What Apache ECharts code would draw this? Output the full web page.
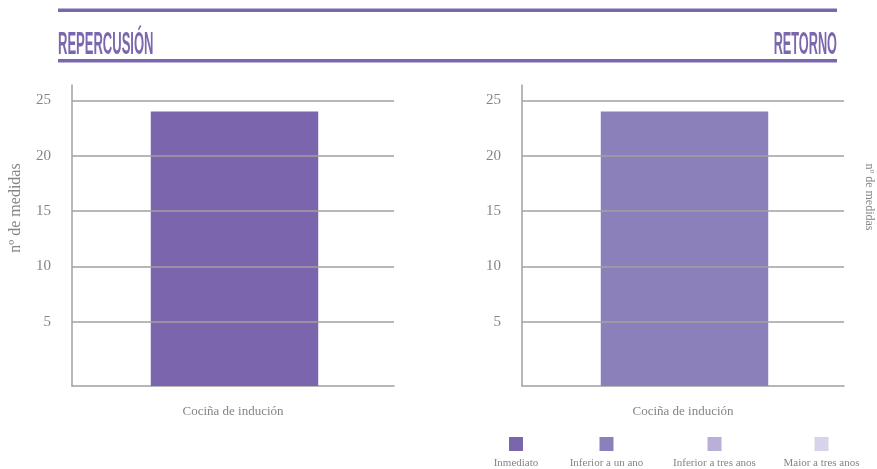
<!DOCTYPE html>
<html>
<head>
<meta charset="utf-8">
<script src="https://cdn.jsdelivr.net/npm/echarts@6/dist/echarts.min.js"></script>
<style>
  html, body { margin: 0; padding: 0; background: #fff; }
  #chart { width: 877px; height: 469px; }
</style>
</head>
<body>
<div id="chart"></div>
<script>
// Data
const categories = ['Cociña de indución'];
const panelTitles = ['REPERCUSIÓN', 'RETORNO'];
const legendNames = ['Inmediato', 'Inferior a un ano', 'Inferior a tres anos', 'Maior a tres anos'];
const repercusionValues = [24];   // Inmediato
const retornoValues = [24];       // Inferior a un ano
const yTicks = [5, 10, 15, 20, 25];
const yAxisName = 'nº de medidas';

// Styling
const PURPLE = '#7b67ae';
const legendColors = ['#7b65ad', '#8c80ba', '#b9afd8', '#d8d3ea'];
const TEXT = '#858585';
const LINE = '#a0a0a0';
const SERIF = '"Liberation Serif", "DejaVu Serif", serif';
const Y_MIN = -0.8;
const Y_MAX = 26.4;

// Bars rise from the floor of the value axis
function renderBar(params, api) {
  const cat = api.value(0);
  const val = api.value(1);
  const top = api.coord([cat, val]);
  const base = api.coord([cat, Y_MIN]);
  const w = api.size([1, 0])[0] * 0.52;
  return {
    type: 'rect',
    shape: { x: top[0] - w / 2 + 1.5, y: top[1], width: w, height: base[1] - top[1] },
    style: { fill: api.visual('color') }
  };
}

function makeXAxis(gridIndex) {
  return {
    type: 'category',
    gridIndex,
    data: categories,
    axisLine: { show: true, onZero: false, lineStyle: { color: LINE, width: 1.5 } },
    axisTick: { show: false },
    axisLabel: { color: TEXT, fontFamily: SERIF, fontSize: 13, margin: 19 },
    splitLine: { show: false }
  };
}

function makeYAxis(gridIndex) {
  return {
    type: 'value',
    gridIndex,
    min: Y_MIN,
    max: Y_MAX,
    axisLine: { show: true, onZero: false, lineStyle: { color: LINE, width: 1.5 } },
    axisTick: { show: false, customValues: yTicks },
    axisLabel: { customValues: yTicks, color: TEXT, fontFamily: SERIF, fontSize: 15, margin: 21 },
    splitLine: { show: false }
  };
}

// Horizontal gridlines at the labelled tick values
function gridLines(gridIndex) {
  return {
    type: 'line',
    xAxisIndex: gridIndex,
    yAxisIndex: gridIndex,
    data: [],
    z: 0,
    silent: true,
    markLine: {
      silent: true,
      symbol: 'none',
      label: { show: false },
      lineStyle: { color: LINE, width: 1.5, type: 'solid' },
      data: yTicks.map(v => ({ yAxis: v }))
    }
  };
}

const legendCenters = [516, 606.5, 714.5, 821.5];

const option = {
  animation: false,
  backgroundColor: '#ffffff',
  grid: [
    { left: 72, right: 483, top: 85, bottom: 83 },
    { left: 522, right: 33, top: 85, bottom: 83 }
  ],
  xAxis: [makeXAxis(0), makeXAxis(1)],
  yAxis: [makeYAxis(0), makeYAxis(1)],
  legend: legendNames.map((name, i) => ({
    data: [{ name, icon: 'rect' }],
    left: legendCenters[i] - 7,
    top: 437,
    itemWidth: 14,
    itemHeight: 14,
    padding: 0,
    selectedMode: false,
    formatter: () => '',
    textStyle: { fontSize: 1 }
  })),
  series: [
    gridLines(0),
    gridLines(1),
    {
      name: legendNames[0],
      type: 'custom',
      xAxisIndex: 0,
      yAxisIndex: 0,
      renderItem: renderBar,
      itemStyle: { color: legendColors[0] },
      encode: { x: 0, y: 1 },
      data: categories.map((c, i) => [i, repercusionValues[i]]),
      z: 2
    },
    {
      name: legendNames[1],
      type: 'custom',
      xAxisIndex: 1,
      yAxisIndex: 1,
      renderItem: renderBar,
      itemStyle: { color: legendColors[1] },
      encode: { x: 0, y: 1 },
      data: categories.map((c, i) => [i, retornoValues[i]]),
      z: 2
    },
    {
      name: legendNames[2],
      type: 'bar',
      xAxisIndex: 1,
      yAxisIndex: 1,
      itemStyle: { color: legendColors[2] },
      data: []
    },
    {
      name: legendNames[3],
      type: 'bar',
      xAxisIndex: 1,
      yAxisIndex: 1,
      itemStyle: { color: legendColors[3] },
      data: []
    }
  ],
  graphic: [
    // header rules
    { type: 'rect', shape: { x: 58, y: 8.5, width: 779, height: 3.5 }, style: { fill: PURPLE } },
    { type: 'rect', shape: { x: 58, y: 59, width: 779, height: 3.5 }, style: { fill: PURPLE } },
    // panel titles
    {
      type: 'text', x: 58, y: 45, scaleX: 0.42,
      style: { text: panelTitles[0], font: 'bold 31px "Liberation Sans", Arial, sans-serif', fill: PURPLE, align: 'left', verticalAlign: 'middle' }
    },
    {
      type: 'text', x: 837, y: 45, scaleX: 0.41,
      style: { text: panelTitles[1], font: 'bold 31px "Liberation Sans", Arial, sans-serif', fill: PURPLE, align: 'right', verticalAlign: 'middle' }
    },
    // axis names
    {
      type: 'text', x: 16, y: 208, rotation: Math.PI / 2,
      style: { text: yAxisName, font: '16px ' + SERIF, fill: TEXT, align: 'center', verticalAlign: 'middle' }
    },
    {
      type: 'text', x: 869, y: 197, rotation: -Math.PI / 2,
      style: { text: yAxisName, font: '12px ' + SERIF, fill: TEXT, align: 'center', verticalAlign: 'middle' }
    }
  ].concat(legendNames.map((name, i) => ({
    type: 'text', x: legendCenters[i], y: 463,
    style: { text: name, font: '11px ' + SERIF, fill: TEXT, align: 'center', verticalAlign: 'middle' }
  })))
};

const chart = echarts.init(document.getElementById('chart'), null, { renderer: 'canvas' });
chart.setOption(option);
</script>
</body>
</html>
